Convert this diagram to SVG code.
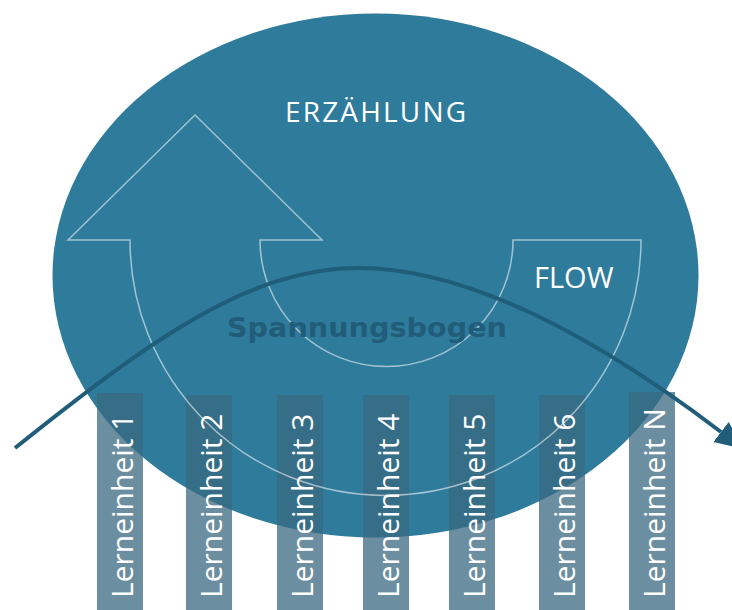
<svg xmlns="http://www.w3.org/2000/svg" width="732" height="610" viewBox="0 0 732 610">
  <style>
    .bar { fill: #3a6880; fill-opacity: 0.75; }
    .barlabel { font-family: "Open Sans", "Liberation Sans", sans-serif; font-size: 30px; fill: #ffffff; }
    .title { font-family: "Open Sans", "Liberation Sans", sans-serif; fill: #ffffff; }
    .outline { fill: none; stroke: #ffffff; stroke-opacity: 0.55; stroke-width: 1.5; }
    .arc { fill: none; stroke: #1f5d78; stroke-width: 4; }
    .span { font-family: "DejaVu Sans", "Liberation Sans", sans-serif; font-weight: bold; font-size: 27px; fill: #215d79; }
  </style>
  <defs>
    <marker id="ah" markerUnits="userSpaceOnUse" markerWidth="30" markerHeight="30" viewBox="0 -12 26 24" refX="0" refY="0" orient="auto">
      <path d="M0,-11 L24,0 L0,11 Z" fill="#1f5d78"/>
    </marker>
  </defs>
  <rect x="0" y="0" width="732" height="610" fill="#ffffff"/>

  <g id="erzaehlung">
    <ellipse cx="375.5" cy="275.5" rx="323" ry="262" fill="#2f7b9b"/>
    <text class="title" x="375.5" y="122" font-size="28" text-anchor="middle" textLength="181" lengthAdjust="spacing">ERZÄHLUNG</text>
  </g>

  <g id="lerneinheit-1">
    <rect class="bar" x="97" y="393" width="46" height="217"/>
    <text class="barlabel" transform="translate(133,598) rotate(-90)">Lerneinheit 1</text>
  </g>
  <g id="lerneinheit-2">
    <rect class="bar" x="186" y="395" width="46" height="215"/>
    <text class="barlabel" transform="translate(222,598) rotate(-90)">Lerneinheit 2</text>
  </g>
  <g id="lerneinheit-3">
    <rect class="bar" x="277" y="395" width="46" height="215"/>
    <text class="barlabel" transform="translate(313,598) rotate(-90)">Lerneinheit 3</text>
  </g>
  <g id="lerneinheit-4">
    <rect class="bar" x="363" y="395" width="46" height="215"/>
    <text class="barlabel" transform="translate(399,598) rotate(-90)">Lerneinheit 4</text>
  </g>
  <g id="lerneinheit-5">
    <rect class="bar" x="449" y="395" width="46" height="215"/>
    <text class="barlabel" transform="translate(485,598) rotate(-90)">Lerneinheit 5</text>
  </g>
  <g id="lerneinheit-6">
    <rect class="bar" x="539" y="395" width="46" height="215"/>
    <text class="barlabel" transform="translate(575,598) rotate(-90)">Lerneinheit 6</text>
  </g>
  <g id="lerneinheit-n">
    <rect class="bar" x="629" y="392" width="46" height="218"/>
    <text class="barlabel" transform="translate(665,598) rotate(-90)">Lerneinheit N</text>
  </g>

  <g id="flow">
    <path class="outline" d="M68,240 L195,115 L322,240 L260,240 A126.5,126.5 0 0 0 513,240 L641,240 A255.5,255.5 0 0 1 130,240 Z"/>
    <text class="title" x="534" y="288" font-size="29">FLOW</text>
  </g>

  <g id="connectors">
    <path class="arc" d="M15,448 C150,340 250,268 358,268 C470,268 600,340 721,432" marker-end="url(#ah)"/>
  </g>

  <g id="spannungsbogen">
    <text class="span" x="227" y="337" textLength="280" lengthAdjust="spacingAndGlyphs">Spannungsbogen</text>
  </g>
</svg>
